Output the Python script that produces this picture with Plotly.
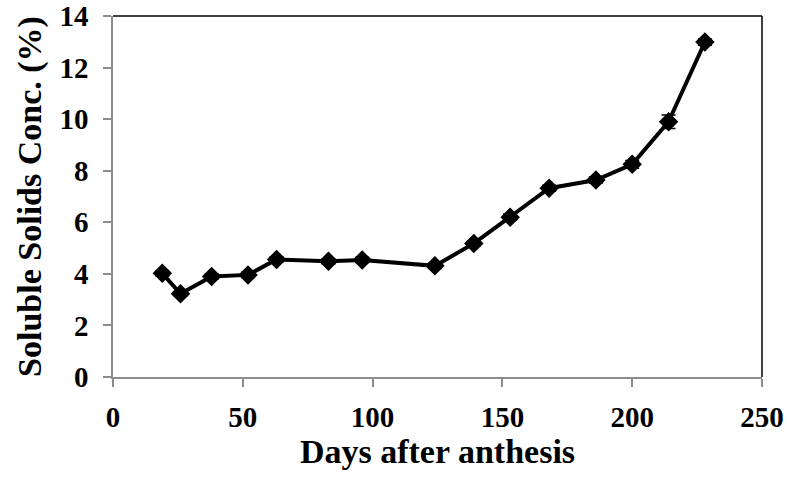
import plotly.graph_objects as go

# Soluble solids concentration over fruit development
days = [19, 26, 38, 52, 63, 83, 96, 124, 139, 153, 168, 186, 200, 214, 228]
ssc = [4.02, 3.23, 3.90, 3.96, 4.56, 4.49, 4.54, 4.31, 5.18, 6.20, 7.32, 7.64, 8.25, 9.90, 12.99]
ssc_err = [0.10, 0.10, 0.10, 0.10, 0.10, 0.10, 0.10, 0.10, 0.10, 0.12, 0.12, 0.12, 0.15, 0.26, 0.12]

x_ticks = [0, 50, 100, 150, 200, 250]
y_ticks = [0, 2, 4, 6, 8, 10, 12, 14]

FONT = "Liberation Serif, Times New Roman, serif"
AXIS_GRAY = "#8c8c8c"

fig = go.Figure()
fig.add_trace(go.Scatter(
    x=days, y=ssc,
    mode="lines+markers",
    line=dict(color="black", width=4),
    marker=dict(symbol="diamond", size=15, color="black"),
    error_y=dict(type="data", array=ssc_err, visible=True,
                 color="black", thickness=1.5, width=7),
    showlegend=False,
))

axis_common = dict(
    showgrid=False, zeroline=False, automargin=False,
    showline=True, linecolor=AXIS_GRAY, linewidth=1.5,
    ticks="outside", ticklen=8, tickwidth=1.5, tickcolor=AXIS_GRAY,
    ticklabeloverflow="allow",
    tickfont=dict(family=FONT, size=29, color="black", weight="bold"),
)

fig.update_xaxes(
    range=[0, 250], tickvals=x_ticks, ticktext=[str(v) for v in x_ticks],
    ticklabelstandoff=5,
    title=dict(text="<b>Days after anthesis</b>", standoff=6,
               font=dict(family=FONT, size=34, color="black")),
    **axis_common,
)
fig.update_yaxes(
    range=[0, 14], tickvals=y_ticks, ticktext=[str(v) for v in y_ticks],
    ticklabelstandoff=9,
    title=dict(text="<b>Soluble Solids Conc. (%)</b>", standoff=8,
               font=dict(family=FONT, size=34, color="black")),
    **axis_common,
)

# black frame on the top and right sides of the plot area
fig.add_shape(type="line", xref="paper", yref="paper", x0=0, x1=1, y0=1, y1=1,
              line=dict(color="black", width=1.5))
fig.add_shape(type="line", xref="paper", yref="paper", x0=1, x1=1, y0=0, y1=1,
              line=dict(color="black", width=1.5))

fig.update_layout(
    width=787, height=477,
    margin=dict(l=113, r=25, t=16, b=100),
    plot_bgcolor="white", paper_bgcolor="white",
)

fig.write_html("out.html")
